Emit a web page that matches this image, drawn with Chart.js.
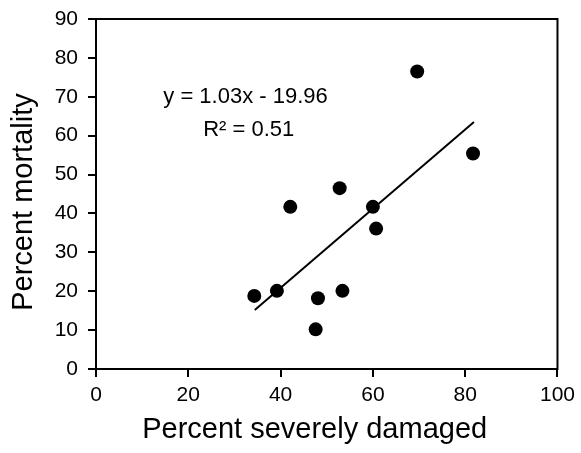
<!DOCTYPE html>
<html>
<head>
<meta charset="utf-8">
<script src="https://cdn.jsdelivr.net/npm/chart.js@4/dist/chart.umd.min.js"></script>
<style>
  html, body { margin: 0; padding: 0; background: #fff; }
  #wrap { width: 581px; height: 453px; }
</style>
</head>
<body>
<div id="wrap"><canvas id="myChart"></canvas></div>
<script>
const damaged   = [34.3, 39.2, 42.1, 52.8, 60.0, 60.7, 48.1, 53.4, 47.6, 69.6, 81.7];
const mortality = [18.8, 20.1, 41.7, 46.5, 41.7, 36.1, 18.2, 20.1, 10.2, 76.5, 55.4];
const fitX = [34.4, 81.9];
const fitY = [15.2, 63.5];
const eqLines = ['y = 1.03x - 19.96', 'R² = 0.51'];
const eqPos = [{ x: 32.4, y: 69.9 }, { x: 33.1, y: 61.5 }];

Chart.defaults.color = '#000';
Chart.defaults.font.family = '"Liberation Sans", Arial, sans-serif';

const boxPlugin = {
    id: 'box',
    afterDraw(chart) {
        const { ctx, chartArea, scales } = chart;
        ctx.save();
        ctx.strokeStyle = '#000';
        ctx.lineWidth = 2;
        ctx.strokeRect(chartArea.left, chartArea.top,
            chartArea.right - chartArea.left, chartArea.bottom - chartArea.top);

        ctx.fillStyle = '#000';
        ctx.font = '22px "Liberation Sans", Arial, sans-serif';
        ctx.textAlign = 'center';
        ctx.textBaseline = 'middle';
        eqLines.forEach((txt, i) => {
            ctx.fillText(txt, scales.x.getPixelForValue(eqPos[i].x),
                scales.y.getPixelForValue(eqPos[i].y));
        });
        ctx.restore();
    }
};

const ctx = document.getElementById('myChart');
new Chart(ctx, {
    type: 'scatter',
    data: {
        datasets: [
            {
                label: 'fit',
                data: fitX.map((x, i) => ({ x: x, y: fitY[i] })),
                showLine: true,
                borderColor: '#000',
                borderWidth: 2,
                pointRadius: 0
            },
            {
                label: 'points',
                data: damaged.map((x, i) => ({ x: x, y: mortality[i] })),
                backgroundColor: '#000',
                borderWidth: 0,
                pointRadius: 7
            }
        ]
    },
    options: {
        responsive: true,
        maintainAspectRatio: false,
        animation: false,
        layout: { padding: { left: 0, right: 23, top: 19, bottom: 0 } },
        plugins: {
            legend: { display: false },
            tooltip: { enabled: false }
        },
        scales: {
            x: {
                min: 0, max: 100,
                ticks: { stepSize: 20, font: { size: 21 }, padding: 6, maxRotation: 0 },
                grid: { drawOnChartArea: false, tickLength: 8, color: '#000', lineWidth: 2 },
                border: { color: '#000', width: 2 },
                // trailing spaces nudge the centred title a little to the left, as in the original
                title: { display: true, text: 'Percent severely damaged   ', font: { size: 29 }, padding: { top: 0, bottom: 6 } },
                afterFit: s => { s.height = 84; }
            },
            y: {
                min: 0, max: 90,
                ticks: { stepSize: 10, font: { size: 21 }, padding: 10 },
                grid: { drawOnChartArea: false, tickLength: 8, color: '#000', lineWidth: 2 },
                border: { color: '#000', width: 2 },
                title: { display: true, text: 'Percent mortality  ', font: { size: 29 }, padding: { top: 7, bottom: 0 } },
                afterFit: s => { s.width = 96; s.paddingTop = 0; s.paddingBottom = 0; }
            }
        }
    },
    plugins: [boxPlugin]
});
</script>
</body>
</html>
